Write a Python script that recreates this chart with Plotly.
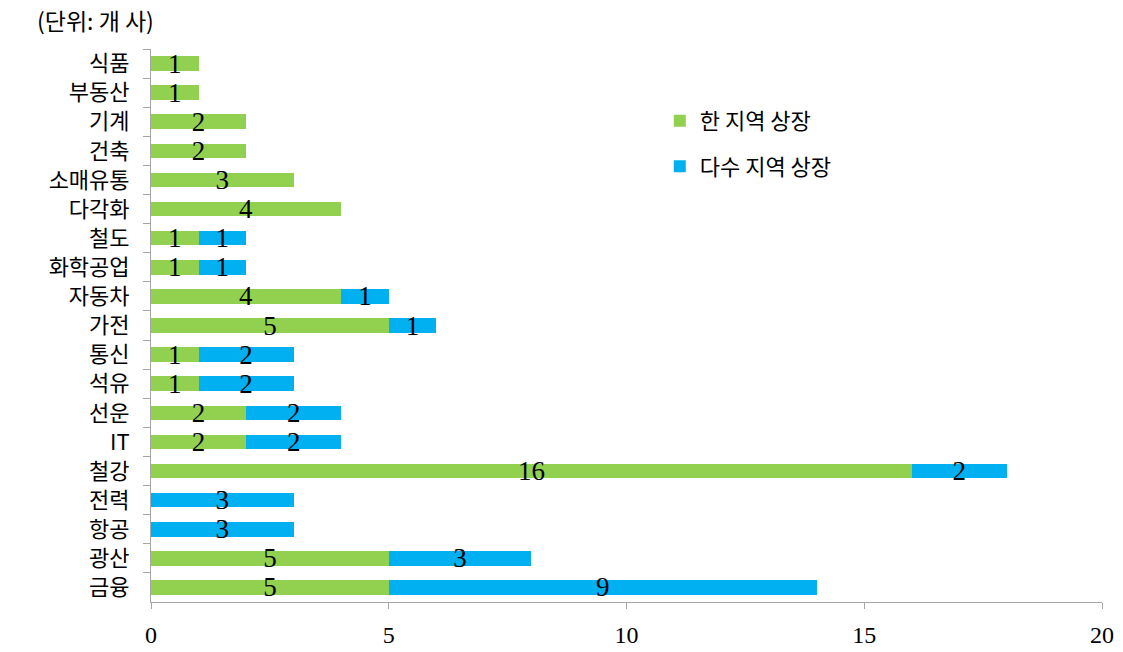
import plotly.graph_objects as go

categories = ["식품", "부동산", "기계", "건축", "소매유통", "다각화", "철도", "화학공업", "자동차",
              "가전", "통신", "석유", "선운", "IT", "철강", "전력", "항공", "광산", "금융"]
single_region = [1, 1, 2, 2, 3, 4, 1, 1, 4, 5, 1, 1, 2, 2, 16, 0, 0, 5, 5]
multi_region = [0, 0, 0, 0, 0, 0, 1, 1, 1, 1, 2, 2, 2, 2, 2, 3, 3, 3, 9]
series_names = ["한 지역 상장", "다수 지역 상장"]
x_ticks = [0, 5, 10, 15, 20]

FONT = "Liberation Serif, Noto Sans CJK KR, serif"
KFONT = "Noto Sans CJK KR, sans-serif"

def labels(vals):
    return [str(v) if v else "" for v in vals]

fig = go.Figure()
fig.add_trace(go.Bar(
    y=categories, x=single_region, orientation="h", name=series_names[0],
    marker=dict(color="#92D050", line=dict(width=0)),
    text=labels(single_region), textposition="inside", insidetextanchor="middle",
    textangle=0, cliponaxis=False,
    textfont=dict(family=FONT, size=27, color="black"), constraintext="none",
    legendgroup="a",
))
fig.add_trace(go.Bar(
    y=categories, x=multi_region, orientation="h", name=series_names[1],
    marker=dict(color="#00B0F0", line=dict(width=0)),
    text=labels(multi_region), textposition="inside", insidetextanchor="middle",
    textangle=0, cliponaxis=False,
    textfont=dict(family=FONT, size=27, color="black"), constraintext="none",
    legendgroup="b",
))

fig.update_layout(
    barmode="stack", bargap=0.5,
    width=1123, height=652,
    margin=dict(l=151, r=21, t=49, b=50),
    plot_bgcolor="white", paper_bgcolor="white",
    font=dict(family=FONT, color="black"),
    uniformtext=dict(mode=False),
    legend=dict(x=0.535, y=0.908, xanchor="left", yanchor="top",
                font=dict(family=KFONT, size=22, color="black"),
                tracegroupgap=14, bgcolor="rgba(0,0,0,0)", itemwidth=30),
    annotations=[dict(text="(단위: 개 사)", x=-0.122, y=1.052, xref="x domain", yref="y domain",
                      xanchor="left", yanchor="middle", showarrow=False,
                      font=dict(family=KFONT, size=23, color="black"))],
)

fig.update_xaxes(range=[0, 20], tickvals=x_ticks, showgrid=False, zeroline=False,
                 showline=True, linecolor="#a6a6a6", linewidth=1,
                 ticks="outside", ticklen=6, tickcolor="#a6a6a6",
                 tickfont=dict(family=FONT, size=24, color="black"),
                 ticklabelstandoff=5, automargin=False)
fig.update_yaxes(categoryorder="array", categoryarray=categories, autorange="reversed",
                 showgrid=False, showline=True, linecolor="#a6a6a6", linewidth=1,
                 ticks="outside", tickson="boundaries", ticklen=7, tickcolor="#a6a6a6",
                 tickfont=dict(family=KFONT, size=22, color="black"),
                 ticklabelstandoff=16, automargin=False)

fig.write_html("out.html")
